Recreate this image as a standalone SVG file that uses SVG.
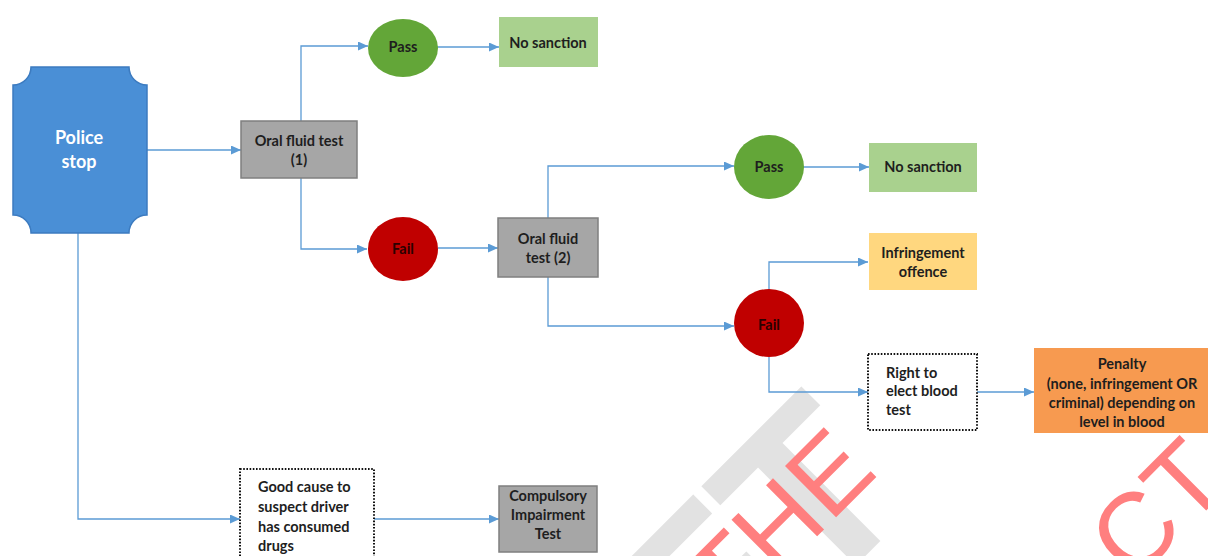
<svg xmlns="http://www.w3.org/2000/svg" width="1208" height="556" viewBox="0 0 1208 556">
<defs>
<marker id="arr" markerWidth="10" markerHeight="9" refX="10" refY="4.5" orient="auto" markerUnits="userSpaceOnUse">
<path d="M0,0 L10,4.5 L0,9 Z" fill="#5B9BD5"/>
</marker>
<style>
.c{fill:none;stroke:#5B9BD5;stroke-width:1.3;marker-end:url(#arr)}
.t{font-family:Lato,"Liberation Sans",sans-serif;font-weight:700;font-size:14.5px;fill:#1e1e1e}
.m{text-anchor:middle}
.grey{fill:#A6A6A6;stroke:#7F7F7F;stroke-width:1.5}
.dot{fill:#fff;stroke:#111;stroke-width:2;stroke-dasharray:1.6 1.6}
.wr{font-family:"Liberation Sans",sans-serif;font-size:105px;fill:#FF7F7F}
</style>
</defs>
<rect width="1208" height="556" fill="#fff"/>
<g id="watermark">
<text transform="rotate(-45)" x="296" y="1005" font-family="Liberation Sans,sans-serif" font-weight="700" font-size="240" fill="#E2E2E2" text-anchor="end">DRAFT</text>
<text class="wr" transform="rotate(-45)" x="77" y="957">THE</text>
<text class="wr" transform="rotate(-45)" x="389" y="1214">CT</text>
</g>
<g id="connectors">
<path class="c" d="M147,150 H241"/>
<path class="c" d="M301,122 V46 H368"/>
<path class="c" d="M437,47 H499"/>
<path class="c" d="M301,178 V249 H367"/>
<path class="c" d="M438,248 H498"/>
<path class="c" d="M548,218 V166 H734"/>
<path class="c" d="M803,167 H869"/>
<path class="c" d="M548,277 V326 H734"/>
<path class="c" d="M769,290 V262 H868"/>
<path class="c" d="M769,357 V392 H868"/>
<path class="c" d="M977,392 H1034"/>
<path class="c" d="M78,233 V519 H240"/>
<path class="c" d="M374,519 H499"/>
</g>
<g id="police-stop">
<path d="M31,67 H129 A18,18 0 0 0 147,85 V215 A18,18 0 0 0 129,233 H31 A18,18 0 0 0 13,215 V85 A18,18 0 0 0 31,67 Z" fill="#4A8FD6" stroke="#3C7BC0" stroke-width="1.5"/>
<text class="t m" x="79" y="144" style="fill:#fff;font-size:18px">Police</text>
<text class="t m" x="79" y="168" style="fill:#fff;font-size:18px">stop</text>
</g>
<g id="oral-1">
<rect class="grey" x="241" y="121" width="116" height="57"/>
<text class="t m" x="299" y="146">Oral fluid test</text>
<text class="t m" x="299" y="165">(1)</text>
</g>
<g id="pass-1">
<ellipse cx="403" cy="48" rx="35" ry="29" fill="#63A638"/>
<text class="t m" x="403" y="52">Pass</text>
</g>
<g id="nosanction-1">
<rect x="499" y="17" width="99" height="50" fill="#A9D18E"/>
<text class="t m" x="548" y="48">No sanction</text>
</g>
<g id="fail-1">
<ellipse cx="403" cy="249" rx="35" ry="32" fill="#C00000"/>
<text class="t m" x="403" y="254" style="fill:#2a0000">Fail</text>
</g>
<g id="oral-2">
<rect class="grey" x="498" y="218" width="100" height="59"/>
<text class="t m" x="548" y="244">Oral fluid</text>
<text class="t m" x="548" y="263">test (2)</text>
</g>
<g id="pass-2">
<ellipse cx="769" cy="167" rx="35" ry="32" fill="#63A638"/>
<text class="t m" x="769" y="172">Pass</text>
</g>
<g id="nosanction-2">
<rect x="869" y="143" width="108" height="49" fill="#A9D18E"/>
<text class="t m" x="923" y="172">No sanction</text>
</g>
<g id="fail-2">
<ellipse cx="769" cy="323" rx="35" ry="34" fill="#C00000"/>
<text class="t m" x="769" y="330" style="fill:#2a0000">Fail</text>
</g>
<g id="infringement">
<rect x="869" y="233" width="108" height="57" fill="#FFD77F"/>
<text class="t m" x="923" y="258">Infringement</text>
<text class="t m" x="923" y="277">offence</text>
</g>
<g id="right-to-elect">
<rect class="dot" x="868" y="354" width="109" height="76"/>
<text class="t" x="886" y="378">Right to</text>
<text class="t" x="886" y="396">elect blood</text>
<text class="t" x="886" y="415">test</text>
</g>
<g id="penalty">
<rect x="1034" y="348" width="176" height="85" fill="#F79A50"/>
<text class="t m" x="1122" y="369">Penalty</text>
<text class="t m" x="1122" y="389">(none, infringement OR</text>
<text class="t m" x="1122" y="408">criminal) depending on</text>
<text class="t m" x="1122" y="427">level in blood</text>
</g>
<g id="good-cause">
<rect class="dot" x="240" y="469" width="134" height="100"/>
<text class="t" x="258" y="492">Good cause to</text>
<text class="t" x="258" y="512">suspect driver</text>
<text class="t" x="258" y="532">has consumed</text>
<text class="t" x="258" y="551">drugs</text>
</g>
<g id="impairment">
<rect class="grey" x="499" y="486" width="98" height="66"/>
<text class="t m" x="548" y="501">Compulsory</text>
<text class="t m" x="548" y="520">Impairment</text>
<text class="t m" x="548" y="539">Test</text>
</g>
</svg>
